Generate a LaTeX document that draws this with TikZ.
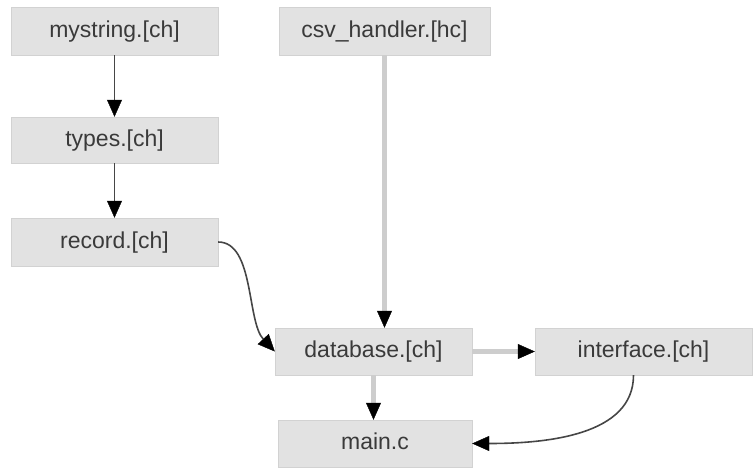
\documentclass[tikz,border=0pt]{standalone}
\usepackage{fontspec}
\setmainfont{Liberation Sans}
\usetikzlibrary{arrows.meta,calc}
\definecolor{boxfill}{RGB}{226,226,226}
\definecolor{boxline}{RGB}{210,210,210}
\definecolor{txtgray}{RGB}{58,58,58}
\definecolor{linklight}{RGB}{205,205,205}
\definecolor{linkdark}{RGB}{70,70,70}
\begin{document}
\begin{tikzpicture}[x=1pt,y=-1pt,font=\fontsize{23}{26}\selectfont,
  src/.style={draw=boxline,fill=boxfill,text=txtgray,inner sep=0pt,
    text height=17pt,text depth=5pt,minimum height=48pt},
  dep/.style={draw=linkdark,line width=1.6pt,
    -{Triangle[length=17pt,width=15pt,line width=0.4pt,black]}},
  deplight/.style={draw=linklight,line width=5pt,
    -{Triangle[length=17pt,width=15pt,line width=0.4pt,black]}}]
  \useasboundingbox (0,0) rectangle (753,467);
  % source files
  \node[src,minimum width=207pt] (mystring) at (114.5,31) {mystring.[ch]};
  \node[src,minimum width=211pt] (csv) at (384.5,31) {csv\_handler.[hc]};
  \node[src,minimum width=207pt,minimum height=46pt] (types) at (114.5,140) {types.[ch]};
  \node[src,minimum width=207pt] (record) at (114.5,242) {record.[ch]};
  \node[src,minimum width=197pt,minimum height=47pt] (database) at (373.5,351.5) {database.[ch]};
  \node[src,minimum width=217pt,minimum height=47pt] (interface) at (643.5,351.5) {interface.[ch]};
  \node[src,minimum width=194pt,minimum height=47pt] (main) at (375,443.5) {main.c};
  % dependencies
  \draw[dep] (mystring) -- (types);
  \draw[dep] (types) -- (record);
  \draw[dep] (record.east) .. controls +(36,0) and +(-28,-30) .. (database.west);
  \draw[deplight] (csv.south) -- (csv.south |- database.north);
  \draw[deplight] (database) -- (interface);
  \draw[deplight] (database.south) -- (database.south |- main.north);
  \draw[dep] ($(interface.south)+(-10,0)$) .. controls +(0,60) and +(75,0) .. (main.east);
\end{tikzpicture}
\end{document}
